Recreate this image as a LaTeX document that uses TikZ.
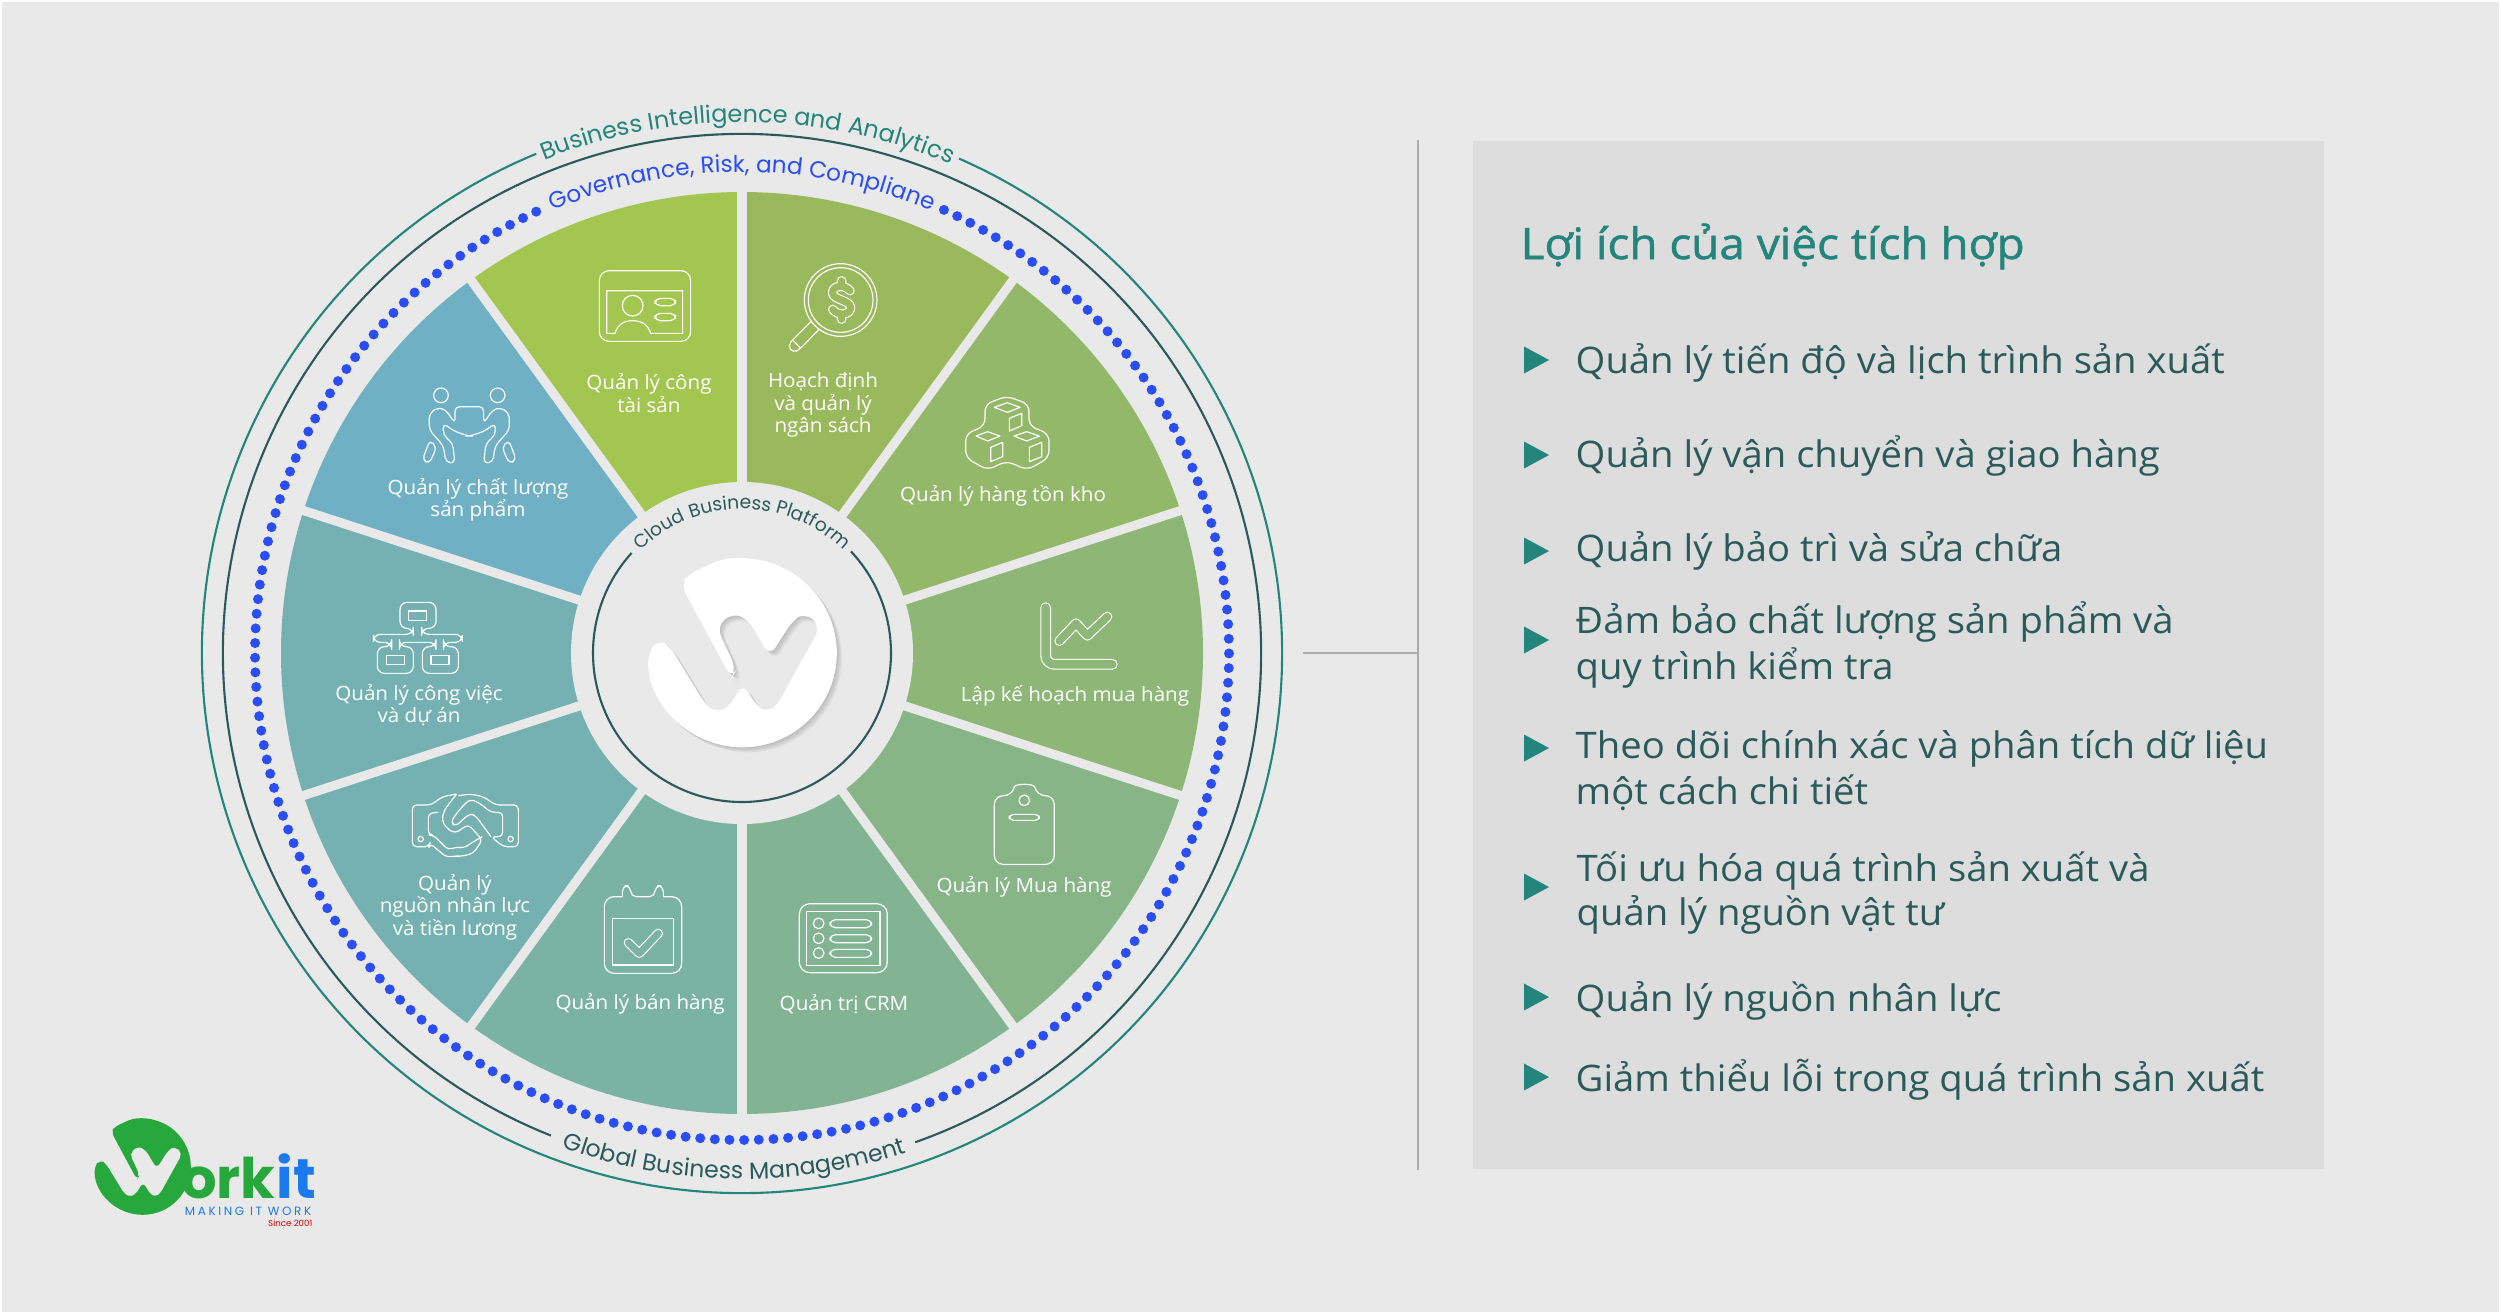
\documentclass[tikz,border=0pt]{standalone}
\usepackage{fontspec}
\setmainfont[FakeStretch=1.045]{Open Sans}
\newfontfamily\titlefont[FakeStretch=1.06,FakeBold=1.2]{Open Sans}
\newfontfamily\ringfont{Poppins}
\usetikzlibrary{decorations.text}
\definecolor{pagebg}{HTML}{E9E9E9}
\definecolor{panelbg}{HTML}{DDDDDD}
\definecolor{rulegrey}{HTML}{ABABAB}
\definecolor{tealmid}{HTML}{23857C}
\definecolor{tealdark}{HTML}{2A5A5A}
\definecolor{dotblue}{HTML}{2B4DF6}
\definecolor{logogreen}{HTML}{27A83C}
\definecolor{logoblue}{HTML}{1B7AF0}
\definecolor{budget}{HTML}{9AB85C}
\definecolor{stock}{HTML}{94B86A}
\definecolor{plan}{HTML}{8DB677}
\definecolor{purchase}{HTML}{87B587}
\definecolor{crm}{HTML}{82B494}
\definecolor{sales}{HTML}{7BB3A3}
\definecolor{staff}{HTML}{75B1B0}
\definecolor{tasks}{HTML}{75B1B2}
\definecolor{quality}{HTML}{6FB0C4}
\definecolor{assets}{HTML}{A3C650}
\tikzstyle{seclabel}=[align=center, inner sep=0pt, text=white, font=\fontsize{5.6}{6.4}\selectfont]
\tikzstyle{item}=[anchor=base west, inner sep=0pt, text=tealdark, font=\fontsize{10.4}{12}\selectfont]
\tikzstyle{icon}=[draw=white, line width=0.33pt, line join=round]
\tikzstyle{tube}=[icon, line cap=round, double distance=2pt]
\tikzset{zoomed/.style 2 args={shift={(#1,#2)},scale=0.3333}}
\newcommand{\wmark}{(-283,0) arc[start angle=180,end angle=-113,radius=283] -- (-165,-235) -- (-185,-205) -- (-33,77) -- (-18,50) -- (-78,-80) -- (-28,-122) -- (17,-100) -- (82,10) -- (152,-100) -- (187,-122) -- (235,-80) -- (102,160) -- (74,180) -- (42,160) -- (2,90) -- (-38,160) -- (-76,180) -- (-108,160) -- (-218,-20) -- (-253,-42) -- cycle}
\begin{document}
\begin{tikzpicture}[x=0.01cm,y=-0.01cm]
	\useasboundingbox (0,0) rectangle (2501,1314);
	\fill[white] (0,0) rectangle (2501,1314);
	\fill[pagebg] (2,2) rectangle (2499,1312);
	% wheel
	\begin{scope}[shift={(742,653)},yscale=-1]
	\foreach \a/\col in {54/budget,18/stock,-18/plan,-54/purchase,-90/crm,-126/sales,-162/staff,162/tasks,126/quality,90/assets}
		\fill[\col] (0,0) -- (\a:461) arc[start angle=\a,delta angle=36,radius=461] -- cycle;
	\foreach \a in {90,54,18,-18,-54,-90,-126,-162,162,126}
		\draw[pagebg, line width=2.6pt] (0,0) -- (\a:465);
	\fill[pagebg] (0,0) circle[radius=171];
	\draw[tealmid, line width=0.6pt] (66.3:540) arc[start angle=66.3,end angle=-247.6,radius=540];
	\draw[tealdark, line width=0.6pt] (-70.5:519) arc[start angle=-70.5,end angle=248.4,radius=519];
	\draw[tealdark, line width=0.6pt] (137.8:149) arc[start angle=137.8,end angle=403,radius=149];
	\foreach \i in {0,...,180}
		\fill[dotblue] ({115+\i*1.725}:487) circle[radius=5];
	\path[decorate, decoration={text along path, text align=center, text={|\ringfont\fontsize{6.8}{8}\selectfont\color{tealmid}|Business Intelligence and Analytics}}] (124.4:531) arc[start angle=124.4,end angle=54.4,radius=531];
	\path[decorate, decoration={text along path, text align=center, text={|\ringfont\fontsize{6.6}{8}\selectfont\color{dotblue}|Governance, Risk, and Compliane}}] (125:481) arc[start angle=125,end angle=55,radius=481];
	\path[decorate, decoration={text along path, text align=center, text={|\ringfont\fontsize{5.3}{6}\selectfont\color{tealdark}|Cloud Business Platform}}] (150:144) arc[start angle=150,end angle=30,radius=144];
	\path[decorate, decoration={text along path, text align=center, text={|\ringfont\fontsize{6.7}{8}\selectfont\color{tealdark}|Global Business Management}}] (239.1:526) arc[start angle=239.1,end angle=299.1,radius=526];
	\end{scope}
	% centre mark
	\begin{scope}[shift={(742.5,653)},scale=0.3333,rounded corners=3pt]
	\foreach \s in {2,4,...,16}
		\fill[black, opacity=0.025] [shift={(\s,\s)}] \wmark;
	\fill[white] \wmark;
	\end{scope}
	% wheel labels
	\draw (649,393) node[seclabel] (lbAssets) {Quản lý công\\tài sản};
	\draw (823,405) node[seclabel] (lbBudget) {Hoạch định\\và quản lý\\ngân sách};
	\draw (1003,496) node[seclabel] (lbStock) {Quản lý hàng tồn kho};
	\draw (1075,696) node[seclabel] (lbPlan) {Lập kế hoạch mua hàng};
	\draw (1024,887) node[seclabel] (lbPurchase) {Quản lý Mua hàng};
	\draw (844,1004) node[seclabel] (lbCrm) {Quản trị CRM};
	\draw (640,1004) node[seclabel] (lbSales) {Quản lý bán hàng};
	\draw (455,907) node[seclabel] (lbStaff) {Quản lý\\nguồn nhân lực\\và tiền lương};
	\draw (419,705) node[seclabel] (lbTasks) {Quản lý công việc\\và dự án};
	\draw (478,500) node[seclabel] (lbQuality) {Quản lý chất lượng\\sản phẩm};
	% card
	\begin{scope}[zoomed={580}{250}]
	\draw[icon, rounded corners=2.8pt] (58,62) rectangle (332,274);
	\draw[icon] (105,250) -- (80,250) -- (80,122) -- (308,122) -- (308,250) -- (212,250) .. controls (205,225) and (185,212) .. (158,212) .. controls (130,212) and (112,225) .. (105,250);
	\draw[icon] (158,167) circle[radius=31];
	\draw[icon, rounded corners=1.5pt] (225,145) rectangle (287,167);
	\draw[icon, rounded corners=1.5pt] (225,190) rectangle (287,212);
	% magnifier
	\draw[icon] (782,150) circle[radius=109];
	\draw[icon] (782,150) circle[radius=97];
	\draw[icon, rounded corners=1.5pt] (695,213) -- (622,286) -- (640,310) -- (662,295) -- (718,237);
	\draw[icon] (640,272) -- (662,295);
	\draw[tube, double=budget] (785,92) -- (785,108) (810,122) .. controls (790,100) and (755,108) .. (758,130) .. controls (760,150) and (810,150) .. (812,172) .. controls (812,195) and (775,200) .. (758,178) (785,192) -- (785,208);
	\end{scope}
	% boxes and chart
	\begin{scope}[zoomed={950}{385}]
	\draw[icon, rounded corners=2pt] (170,33) -- (237,58) -- (237,122) -- (297,147) -- (297,218) -- (232,255) -- (170,228) -- (112,255) -- (47,218) -- (47,147) -- (105,122) -- (105,58) -- cycle;
	\draw[icon] (133,67) -- (172,53) -- (210,67) -- (172,82) -- cycle;
	\draw[icon] (78,153) -- (113,140) -- (150,153) -- (113,168) -- cycle;
	\draw[icon] (192,153) -- (230,140) -- (268,153) -- (230,168) -- cycle;
	\draw[icon] (178,100) -- (215,85) -- (215,122) -- (178,138) -- cycle;
	\draw[icon] (122,187) -- (158,172) -- (158,215) -- (122,230) -- cycle;
	\draw[icon] (238,187) -- (275,172) -- (275,215) -- (238,230) -- cycle;
	\draw[tube, double=plan, double distance=2.4pt, rounded corners=2.5pt] (287,668) -- (287,838) -- (487,838);
	\draw[tube, double=plan, double distance=2.2pt] (328,768) -- (378,715) -- (412,752) -- (472,695);
	\end{scope}
	% calendar, list, clipboard
	\begin{scope}[zoomed={590}{775}]
	\draw[icon, rounded corners=2.8pt] (97,365) -- (43,365) -- (43,595) -- (275,595) -- (275,365) -- (220,365);
	\draw[icon, rounded corners=1.6pt] (220,365) -- (220,332) -- (195,332) -- (195,365) -- (122,365) -- (122,332) -- (97,332) -- (97,365);
	\draw[icon] (67,430) rectangle (250,570);
	\draw[tube, double=sales] (115,503) -- (148,535) -- (205,475);
	\draw[icon, rounded corners=3pt] (628,386) rectangle (892,593);
	\draw[icon] (650,410) rectangle (870,572);
	\foreach \y in {445,490,534} {
		\draw[icon] (686,\y) circle[radius=16];
		\draw[icon, rounded corners=1.5pt] (720,\y-11) rectangle (845,\y+13);
	}
	\draw[icon, rounded corners=2.5pt] (1268,62) .. controls (1275,25) and (1332,25) .. (1340,62) -- (1393,62) -- (1393,268) -- (1213,268) -- (1213,62) -- cycle;
	\draw[icon] (1303,76) circle[radius=16];
	\draw[icon, rounded corners=1.2pt] (1258,118) rectangle (1348,136);
	\end{scope}
	% people
	\begin{scope}[zoomed={469.3}{375}]
	\foreach \m in {1,-1} {
		\begin{scope}[xscale=\m]
		\draw[icon] (-85,61) circle[radius=22];
		\draw[icon, rounded corners=1.3pt] (0,95) -- (-43,95) -- (-43,145) -- (-70,105) -- (-93,97) -- (-120,115) -- (-120,165) -- (-78,212) -- (-70,262) -- (-43,265) -- (-50,205) -- (-78,180) -- (-78,145) -- (-46,168) -- (-3,183) -- (0,183);
		\draw[icon, rounded corners=1.3pt] (-118,195) -- (-98,217) -- (-120,266) -- (-141,255) -- cycle;
		\end{scope}
	}
	\end{scope}
	% network
	\begin{scope}[zoomed={360}{595}]
	\draw[icon, rounded corners=2pt] (160,100) -- (120,100) -- (120,22) -- (228,22) -- (228,100) -- (185,100) -- (185,118) -- (307,118) -- (307,142) -- (250,142) -- (250,155) -- (295,155) -- (295,235) -- (187,235) -- (187,155) -- (228,155) -- (228,142) -- (118,142) -- (118,155) -- (160,155) -- (160,235) -- (52,235) -- (52,155) -- (95,155) -- (95,142) -- (40,142) -- (40,118) -- (160,118) -- cycle;
	\draw[icon] (146,48) rectangle (200,76);
	\draw[icon] (80,182) rectangle (134,208);
	\draw[icon] (213,182) rectangle (267,208);
	\end{scope}
	% handshake
	\begin{scope}[zoomed={405}{785}]
	\draw[icon, rounded corners=1.2pt] (155,27) -- (112,35) -- (78,60) -- (22,60) -- (22,185) -- (72,185) -- (75,175) -- (125,217) -- (150,212) -- (165,215) -- (205,205) -- (232,165) -- (190,118) -- (150,145) -- (125,130) -- (110,105) -- (118,75) -- (155,27);
	\draw[icon, rounded corners=1.2pt] (160,32) -- (195,27) -- (235,35) -- (272,60) -- (340,60) -- (340,185) -- (295,185) -- (258,155) -- (293,155) -- (293,82) -- (258,82) -- (225,55) -- (195,42) -- (165,72) -- (137,110) -- (150,125) -- (195,85) -- (212,92) -- (258,155);
	\draw[icon, rounded corners=1.2pt] (100,82) -- (70,85) -- (70,150) -- (85,150) -- (130,195) -- (155,185) -- (175,190) -- (205,170) -- (232,155);
	\draw[icon] (47,162) circle[radius=8];
	\draw[icon] (317,162) circle[radius=8];
	\end{scope}
	% logo
	\begin{scope}[shift={(142.7,1166.7)},scale=0.17,rounded corners=1.5pt]
	\fill[logogreen] \wmark;
	\end{scope}
	\draw (276,1198.5) node[anchor=base east, inner sep=0pt, text=logogreen, font=\ringfont\bfseries\fontsize{15.9}{18}\selectfont] (logoOrk) {ork};
	\draw (276,1198.5) node[anchor=base west, inner sep=0pt, text=logoblue, font=\ringfont\bfseries\fontsize{15.9}{18}\selectfont] (logoIt) {it};
	\draw (312,1215) node[anchor=base east, inner sep=0pt, text=logoblue, font=\ringfont\fontsize{3.4}{4}\selectfont\addfontfeature{LetterSpace=22}] (logoTag) {MAKING IT WORK};
	\draw (313,1226) node[anchor=base east, inner sep=0pt, text=red!85!black, font=\ringfont\fontsize{2.45}{3}\selectfont] (logoYear) {Since 2001};
	% rules
	\coordinate (ruleA) at (1303,653);
	\coordinate (ruleB) at (1418,653);
	\coordinate (ruleC) at (1418,140);
	\coordinate (ruleD) at (1418,1170);
	\draw[rulegrey, line width=0.6pt] (ruleA) -- (ruleB);
	\draw[rulegrey, line width=0.6pt] (ruleC) -- (ruleD);
	% panel
	\fill[panelbg] (1473,141) rectangle (2324,1169);
	\draw (1520,259) node[anchor=base west, inner sep=0pt, text=tealmid, font=\titlefont\fontsize{12.3}{14}\selectfont] (title) {Lợi ích của việc tích hợp};
	\foreach \y in {360,455,551,640,748,887,997,1077}
		\fill[tealmid] (1524,\y-13.5) -- (1549,\y) -- (1524,\y+13.5) -- cycle;
	\draw (1575,373.5) node[item] (itemA) {Quản lý tiến độ và lịch trình sản xuất};
	\draw (1575,467.5) node[item] (itemB) {Quản lý vận chuyển và giao hàng};
	\draw (1575,561.5) node[item] (itemC) {Quản lý bảo trì và sửa chữa};
	\draw (1575,633.5) node[item] (itemD) {Đảm bảo chất lượng sản phẩm và};
	\draw (1575,679.5) node[item] (itemDb) {quy trình kiểm tra};
	\draw (1575,758.5) node[item] (itemE) {Theo dõi chính xác và phân tích dữ liệu};
	\draw (1575,804.5) node[item] (itemEb) {một cách chi tiết};
	\draw (1576,881.5) node[item] (itemF) {Tối ưu hóa quá trình sản xuất và};
	\draw (1576,925.5) node[item] (itemFb) {quản lý nguồn vật tư};
	\draw (1575,1011.5) node[item] (itemG) {Quản lý nguồn nhân lực};
	\draw (1575,1091.5) node[item] (itemH) {Giảm thiểu lỗi trong quá trình sản xuất};
\end{tikzpicture}
\end{document}
